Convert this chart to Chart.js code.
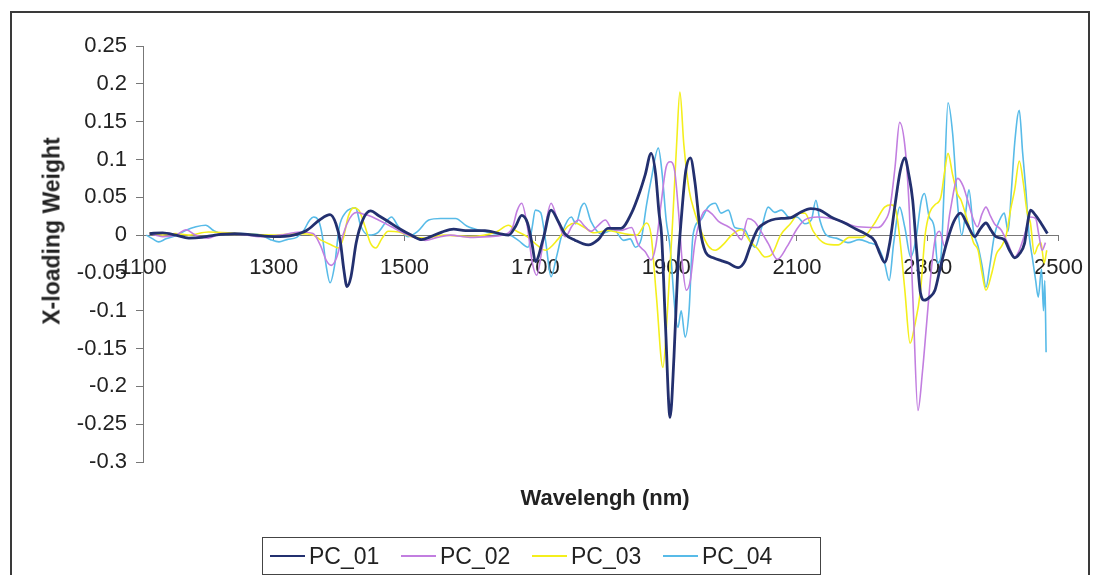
<!DOCTYPE html>
<html>
<head>
<meta charset="utf-8">
<title>X-loading Weight</title>
<script src="https://cdn.jsdelivr.net/npm/chart.js@4.4.1/dist/chart.umd.min.js"></script>
<style>
  html, body { margin: 0; padding: 0; background: #fff; }
  body { width: 1098px; height: 575px; position: relative; overflow: hidden;
         font-family: 'Liberation Sans', Arial, sans-serif; color: #222; }
  #frame { position: absolute; left: 10px; top: 11px; width: 1076px; height: 600px; border: 2px solid #3a3a3a; }
  #chart { position: absolute; left: 0; top: 0; }
  .axis-title { position: absolute; font-weight: bold; font-size: 22px; white-space: nowrap; }
  #yTitle { left: 52px; top: 231px; transform: translate(-50%, -50%) rotate(-90deg); font-size: 23px; }
  #xTitle { left: 605px; top: 498px; transform: translate(-50%, -50%); }
  #legend { position: absolute; left: 262px; top: 537px; width: 557px; height: 36px;
            border: 1.5px solid #444; display: flex; align-items: center; font-size: 23px; }
  .item { display: flex; align-items: center; width: 131px; }
  .item:first-child { margin-left: 7px; }
  .swatch { width: 35px; height: 0; border-top: 2px solid; margin-right: 4px; }
</style>
</head>
<body>
<div id="frame"></div>
<canvas id="chart" width="1098" height="575"></canvas>
<div class="axis-title" id="yTitle">X-loading Weight</div>
<div class="axis-title" id="xTitle">Wavelengh (nm)</div>
<div id="legend"></div>
<script>
const seriesNames = ['PC_01', 'PC_02', 'PC_03', 'PC_04'];
const seriesColors = ['#23306f', '#c27ee0', '#f4ef1c', '#58bbe8'];
const seriesWidths = [2.8, 1.6, 1.6, 1.6];

// loading weights per principal component, wavelength (nm) -> weight
const pc01Nm = [1110, 1130, 1150, 1170, 1190, 1210, 1240, 1270, 1300, 1330, 1350, 1370, 1386, 1395, 1402, 1407, 1412, 1418, 1426, 1436,
  1448, 1460, 1475, 1491, 1510, 1526, 1540, 1557, 1575, 1593, 1623, 1645, 1659, 1670, 1679, 1688, 1695, 1700, 1712, 1724,
  1735, 1745, 1761, 1781, 1796, 1811, 1831, 1847, 1860, 1868, 1877, 1884, 1889, 1893, 1899, 1906, 1912, 1918, 1923, 1930,
  1937, 1944, 1952, 1960, 1972, 1985, 1995, 2010, 2020, 2028, 2040, 2051, 2061, 2076, 2091, 2105, 2121, 2135, 2152, 2173,
  2190, 2204, 2219, 2227, 2234, 2242, 2250, 2258, 2265, 2271, 2277, 2283, 2289, 2295, 2303, 2311, 2320, 2330, 2340, 2350,
  2360, 2372, 2380, 2389, 2397, 2404, 2417, 2425, 2433, 2440, 2448, 2452, 2457, 2465, 2473, 2483];
const pc01 = [0.002, 0.003, 0.000, -0.004, -0.003, 0.000, 0.002, 0.000, -0.002, 0.000, 0.006, 0.020, 0.027, 0.015, -0.010, -0.045, -0.068, -0.055, -0.010, 0.020,
  0.032, 0.026, 0.018, 0.009, 0.000, -0.006, -0.002, 0.004, 0.008, 0.006, 0.006, 0.002, 0.000, 0.012, 0.026, 0.016, -0.012, -0.035, -0.005, 0.033,
  0.018, 0.002, -0.007, -0.013, -0.006, 0.009, 0.009, 0.029, 0.058, 0.080, 0.108, 0.080, 0.030, 0.000, -0.120, -0.241, -0.160, -0.040, 0.020, 0.085,
  0.102, 0.070, 0.007, -0.022, -0.030, -0.034, -0.037, -0.043, -0.035, -0.016, 0.008, 0.016, 0.020, 0.022, 0.023, 0.030, 0.035, 0.033, 0.024, 0.016,
  0.008, 0.002, -0.008, -0.025, -0.036, -0.010, 0.040, 0.085, 0.102, 0.080, 0.046, -0.020, -0.077, -0.086, -0.082, -0.073, -0.040, -0.007, 0.018, 0.029,
  0.015, -0.002, 0.008, 0.016, 0.006, -0.002, -0.006, -0.020, -0.030, -0.025, -0.011, 0.012, 0.033, 0.026, 0.016, 0.002];

const pc02Nm = [1110, 1130, 1150, 1166, 1180, 1200, 1220, 1250, 1280, 1310, 1340, 1360, 1372, 1380, 1388, 1396, 1404, 1412, 1420, 1427,
  1436, 1445, 1460, 1480, 1495, 1511, 1532, 1550, 1570, 1600, 1630, 1650, 1665, 1672, 1679, 1688, 1695, 1702, 1710, 1717,
  1724, 1732, 1740, 1746, 1756, 1766, 1775, 1785, 1795, 1807, 1817, 1830, 1847, 1857, 1868, 1877, 1884, 1892, 1900, 1906,
  1913, 1919, 1925, 1931, 1937, 1944, 1952, 1961, 1970, 1980, 1995, 2005, 2015, 2025, 2035, 2045, 2056, 2070, 2085, 2100,
  2112, 2132, 2163, 2193, 2224, 2234, 2242, 2250, 2257, 2266, 2272, 2278, 2285, 2292, 2298, 2305, 2311, 2318, 2326, 2334,
  2346, 2354, 2361, 2370, 2376, 2383, 2389, 2396, 2402, 2412, 2422, 2433, 2440, 2448, 2457, 2465, 2470, 2475, 2480];
const pc02 = [0.002, -0.002, 0.000, 0.007, 0.000, -0.004, 0.002, 0.001, -0.002, 0.000, 0.004, 0.002, -0.015, -0.033, -0.040, -0.030, -0.005, 0.015, 0.027, 0.030,
  0.028, 0.026, 0.020, 0.011, 0.004, -0.002, -0.007, -0.003, 0.000, -0.003, -0.002, 0.000, 0.010, 0.032, 0.042, 0.010, -0.035, -0.053, -0.020, 0.020,
  0.042, 0.025, 0.005, -0.002, 0.012, 0.020, 0.012, 0.005, 0.012, 0.020, 0.008, 0.006, 0.010, -0.012, -0.022, -0.033, -0.015, 0.040, 0.090, 0.097,
  0.085, 0.030, -0.040, -0.073, -0.060, -0.010, 0.020, 0.033, 0.028, 0.018, 0.011, 0.005, -0.006, 0.022, 0.018, 0.005, -0.011, -0.032, -0.015, 0.008,
  0.020, 0.024, 0.020, 0.011, 0.010, 0.018, 0.035, 0.090, 0.149, 0.110, 0.030, -0.100, -0.232, -0.180, -0.120, -0.050, -0.007, 0.005, -0.015, 0.030,
  0.075, 0.065, 0.046, 0.020, 0.011, 0.028, 0.037, 0.025, 0.015, 0.007, -0.010, -0.029, -0.020, 0.000, 0.024, 0.022, 0.000, -0.020, -0.010];

const pc03Nm = [1110, 1130, 1150, 1170, 1200, 1230, 1260, 1300, 1340, 1360, 1373, 1388, 1399, 1406, 1414, 1422, 1430, 1440, 1448, 1456,
  1465, 1475, 1491, 1510, 1530, 1560, 1600, 1640, 1659, 1670, 1689, 1705, 1715, 1735, 1750, 1761, 1775, 1790, 1810, 1835,
  1855, 1870, 1877, 1885, 1895, 1902, 1910, 1916, 1921, 1927, 1935, 1944, 1955, 1965, 1975, 1990, 2000, 2015, 2028, 2040,
  2051, 2062, 2075, 2090, 2104, 2112, 2125, 2143, 2163, 2180, 2200, 2219, 2234, 2245, 2252, 2258, 2265, 2273, 2280, 2289,
  2296, 2303, 2311, 2320, 2326, 2331, 2338, 2345, 2351, 2362, 2370, 2377, 2383, 2389, 2398, 2405, 2412, 2420, 2427, 2433,
  2440, 2446, 2452, 2457, 2463, 2468, 2473, 2478, 2482];
const pc03 = [0.003, 0.000, 0.002, 0.000, 0.004, 0.003, 0.001, 0.000, 0.002, 0.000, -0.007, -0.013, -0.017, -0.005, 0.025, 0.036, 0.033, 0.010, -0.011, -0.017,
  -0.005, 0.005, 0.004, -0.002, -0.004, 0.000, -0.002, 0.004, 0.013, 0.006, -0.003, -0.015, -0.020, -0.005, 0.012, 0.016, 0.010, 0.003, 0.006, 0.002,
  0.000, 0.016, 0.000, -0.080, -0.175, -0.100, 0.020, 0.120, 0.189, 0.120, 0.060, 0.029, 0.002, -0.015, -0.020, -0.010, 0.000, 0.007, -0.008, -0.018,
  -0.029, -0.025, 0.000, 0.015, 0.029, 0.029, 0.005, -0.011, -0.013, -0.003, -0.003, 0.016, 0.037, 0.040, 0.030, -0.010, -0.073, -0.143, -0.120, -0.073,
  0.000, 0.030, 0.040, 0.050, 0.085, 0.108, 0.080, 0.055, 0.046, 0.015, -0.010, -0.020, -0.050, -0.073, -0.050, -0.025, -0.016, 0.000, 0.035, 0.060,
  0.098, 0.070, 0.030, 0.016, -0.025, -0.015, -0.010, -0.037, -0.020];

const pc04Nm = [1105, 1115, 1124, 1135, 1150, 1165, 1181, 1196, 1208, 1225, 1250, 1280, 1295, 1308, 1320, 1335, 1345, 1355, 1361, 1368,
  1374, 1380, 1386, 1393, 1400, 1410, 1418, 1425, 1433, 1445, 1460, 1472, 1480, 1490, 1505, 1520, 1537, 1555, 1567, 1578,
  1595, 1620, 1645, 1660, 1674, 1689, 1695, 1700, 1708, 1716, 1724, 1732, 1742, 1755, 1762, 1770, 1775, 1785, 1800, 1820,
  1835, 1845, 1853, 1862, 1870, 1877, 1888, 1894, 1900, 1906, 1914, 1918, 1923, 1929, 1935, 1941, 1953, 1964, 1975, 1984,
  1995, 2005, 2020, 2030, 2036, 2046, 2056, 2066, 2076, 2090, 2100, 2112, 2122, 2129, 2135, 2145, 2160, 2178, 2195, 2210,
  2224, 2234, 2241, 2248, 2257, 2265, 2274, 2282, 2290, 2295, 2302, 2310, 2315, 2320, 2325, 2331, 2338, 2346, 2352, 2358,
  2363, 2370, 2377, 2383, 2389, 2395, 2402, 2410, 2417, 2423, 2428, 2433, 2440, 2445, 2450, 2455, 2460, 2465, 2469, 2474,
  2477, 2479, 2481];
const pc04 = [0.000, -0.005, -0.009, -0.005, -0.001, 0.006, 0.011, 0.013, 0.006, 0.001, 0.002, 0.000, -0.006, -0.009, -0.006, -0.003, 0.005, 0.020, 0.024, 0.020,
  0.000, -0.040, -0.063, -0.040, 0.010, 0.030, 0.035, 0.036, 0.012, 0.000, 0.004, 0.018, 0.024, 0.012, -0.002, 0.005, 0.020, 0.022, 0.022, 0.022,
  0.012, 0.005, 0.001, 0.000, -0.007, -0.016, 0.010, 0.033, 0.030, -0.010, -0.055, -0.030, 0.005, 0.024, 0.015, 0.037, 0.042, 0.018, 0.002, 0.007,
  -0.007, -0.005, -0.016, -0.005, 0.040, 0.073, 0.115, 0.080, 0.020, -0.016, -0.104, -0.122, -0.100, -0.135, -0.100, 0.000, 0.020, 0.037, 0.042, 0.029,
  0.033, 0.010, 0.007, -0.011, -0.016, 0.010, 0.037, 0.030, 0.033, 0.022, 0.024, 0.015, 0.020, 0.046, 0.020, 0.000, -0.004, -0.010, -0.006, -0.010,
  -0.016, -0.037, -0.060, -0.010, 0.037, 0.010, -0.029, -0.005, 0.045, 0.055, 0.025, 0.010, -0.037, -0.030, 0.060, 0.175, 0.135, 0.037, 0.000, 0.030,
  0.060, 0.005, -0.015, -0.040, -0.069, -0.040, 0.000, 0.020, 0.029, 0.005, 0.060, 0.122, 0.165, 0.110, 0.060, 0.000, -0.030, -0.060, -0.082, -0.045,
  -0.100, -0.060, -0.155];

const nmLists = [pc01Nm, pc02Nm, pc03Nm, pc04Nm];
const valueLists = [pc01, pc02, pc03, pc04];

const toPoints = (nm, vals) => nm.map((x, i) => ({ x, y: vals[i] }));

const tickFont = { family: "'Liberation Sans', Arial, sans-serif", size: 22 };

const chart = new Chart(document.getElementById('chart'), {
  type: 'line',
  data: {
    datasets: seriesNames.map((name, i) => ({
      label: name,
      data: toPoints(nmLists[i], valueLists[i]),
      borderColor: seriesColors[i],
      borderWidth: seriesWidths[i],
      pointRadius: 0,
      fill: false,
      cubicInterpolationMode: 'monotone'
    }))
  },
  options: {
    responsive: false,
    animation: false,
    layout: { padding: { top: 46, right: 37, bottom: 113, left: 0 } },
    plugins: { legend: { display: false }, tooltip: { enabled: false } },
    scales: {
      x: {
        type: 'linear',
        position: { y: 0 },
        min: 1100, max: 2500,
        grid: { drawOnChartArea: false, tickLength: 5, color: '#777' },
        border: { color: '#777', width: 1 },
        ticks: { stepSize: 200, padding: 15, color: '#222', font: tickFont, maxRotation: 0,
                 callback: v => String(v) }
      },
      y: {
        min: -0.3, max: 0.25,
        afterFit: s => { s.width = 143; },
        grid: { drawOnChartArea: false, tickLength: 7, color: '#777' },
        border: { color: '#777', width: 1 },
        ticks: { stepSize: 0.05, padding: 9, color: '#222', font: tickFont,
                 callback: v => String(+v.toFixed(2)) }
      }
    }
  }
});

// legend box below the plot
const legend = document.getElementById('legend');
chart.data.datasets.forEach(ds => {
  const item = document.createElement('div');
  item.className = 'item';
  item.innerHTML = `<span class="swatch" style="border-color:${ds.borderColor}"></span><span>${ds.label}</span>`;
  legend.appendChild(item);
});
</script>
</body>
</html>
